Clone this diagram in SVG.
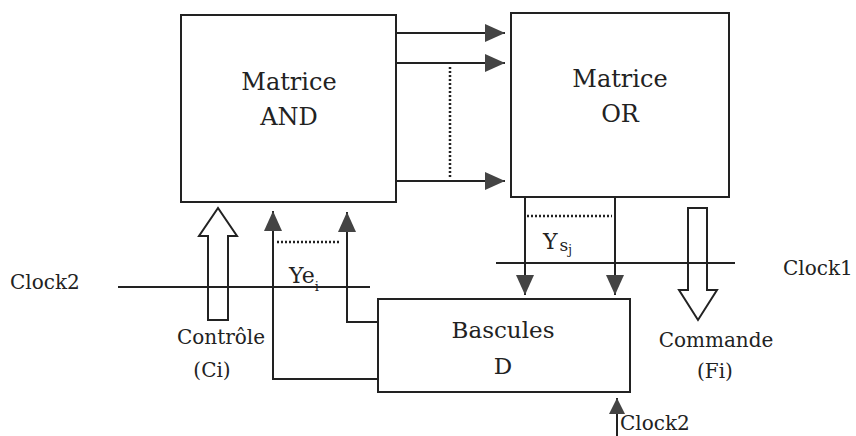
<svg xmlns="http://www.w3.org/2000/svg" width="856" height="436" viewBox="0 0 856 436">
<style>
.box{fill:#fff;stroke:#222;stroke-width:2}
.ln{fill:none;stroke:#222;stroke-width:2}
.dot{fill:none;stroke:#222;stroke-width:2.5;stroke-dasharray:2 2}
.open{fill:#fff;stroke:#222;stroke-width:2;stroke-linejoin:miter}
text{font-family:"DejaVu Serif","Liberation Serif",serif;fill:#222}
.big{font-size:24px;text-anchor:middle}
.mid{font-size:20px;text-anchor:middle}
.clk{font-size:20px}
</style>
<defs>
<marker id="ah" markerUnits="userSpaceOnUse" markerWidth="20" markerHeight="18" refX="20" refY="9" orient="auto" viewBox="0 0 20 18">
<path d="M0,0 L20,9 L0,18 z" fill="#444"/>
</marker>
<marker id="ahs" markerUnits="userSpaceOnUse" markerWidth="16" markerHeight="16" refX="16" refY="8" orient="auto" viewBox="0 0 16 16">
<path d="M0,0 L16,8 L0,16 z" fill="#444"/>
</marker>
</defs>
<rect width="856" height="436" fill="#fff"/>
<g id="and-matrix">
<rect class="box" x="181" y="15" width="215" height="187"/>
<text class="big" x="289" y="90">Matrice</text>
<text class="big" x="289" y="125">AND</text>
</g>
<g id="or-matrix">
<rect class="box" x="511" y="13" width="218" height="184"/>
<text class="big" x="620" y="87">Matrice</text>
<text class="big" x="620" y="122">OR</text>
</g>
<g id="bascules">
<rect class="box" x="378" y="299" width="252" height="93"/>
<text class="big" x="503" y="338" style="font-size:23px">Bascules</text>
<text class="big" x="503" y="374" style="font-size:23px">D</text>
</g>
<g id="controle">
<polygon class="open" points="208,320 228,320 228,236 237,236 218,208 199,236 208,236"/>
<text class="mid" x="221" y="344">Contrôle</text>
<text class="mid" x="212" y="377">(Ci)</text>
</g>
<g id="commande">
<polygon class="open" points="688,208 707,208 707,290 717,290 698,320 679,290 688,290"/>
<text class="mid" x="716" y="347">Commande</text>
<text class="mid" x="715" y="378">(Fi)</text>
</g>
<g id="clock2-left">
<line class="ln" x1="118" y1="287" x2="370" y2="287"/>
<text class="clk" x="10" y="289">Clock2</text>
</g>
<g id="clock1">
<line class="ln" x1="496" y1="263" x2="735" y2="263"/>
<text class="clk" x="783" y="275">Clock1</text>
</g>
<g id="clock2-bottom">
<line class="ln" x1="617" y1="436" x2="617" y2="398" marker-end="url(#ahs)"/>
<text class="clk" x="620" y="430">Clock2</text>
</g>
<g id="connectors">
<line class="ln" x1="396" y1="33" x2="505" y2="33" marker-end="url(#ah)"/>
<line class="ln" x1="396" y1="63" x2="505" y2="63" marker-end="url(#ah)"/>
<line class="ln" x1="396" y1="181" x2="505" y2="181" marker-end="url(#ah)"/>
<line class="dot" x1="450" y1="67" x2="450" y2="177"/>
<path class="ln" d="M378,379 H273 V211" marker-end="url(#ah)"/>
<path class="ln" d="M378,322 H347 V212" marker-end="url(#ah)"/>
<line class="dot" x1="277" y1="242" x2="341" y2="242"/>
<line class="ln" x1="525" y1="197" x2="525" y2="295" marker-end="url(#ah)"/>
<line class="ln" x1="615" y1="197" x2="615" y2="295" marker-end="url(#ah)"/>
<line class="dot" x1="527" y1="216" x2="612" y2="216"/>
</g>
<g id="labels">
<text x="289" y="283" style="font-size:22px">Y<tspan>e</tspan><tspan dy="8" style="font-size:13px">i</tspan></text>
<text x="543" y="249" style="font-size:22px">Y<tspan dx="2" dy="2" style="font-size:17px">s</tspan><tspan dy="3" style="font-size:12px">j</tspan></text>
</g>
</svg>
